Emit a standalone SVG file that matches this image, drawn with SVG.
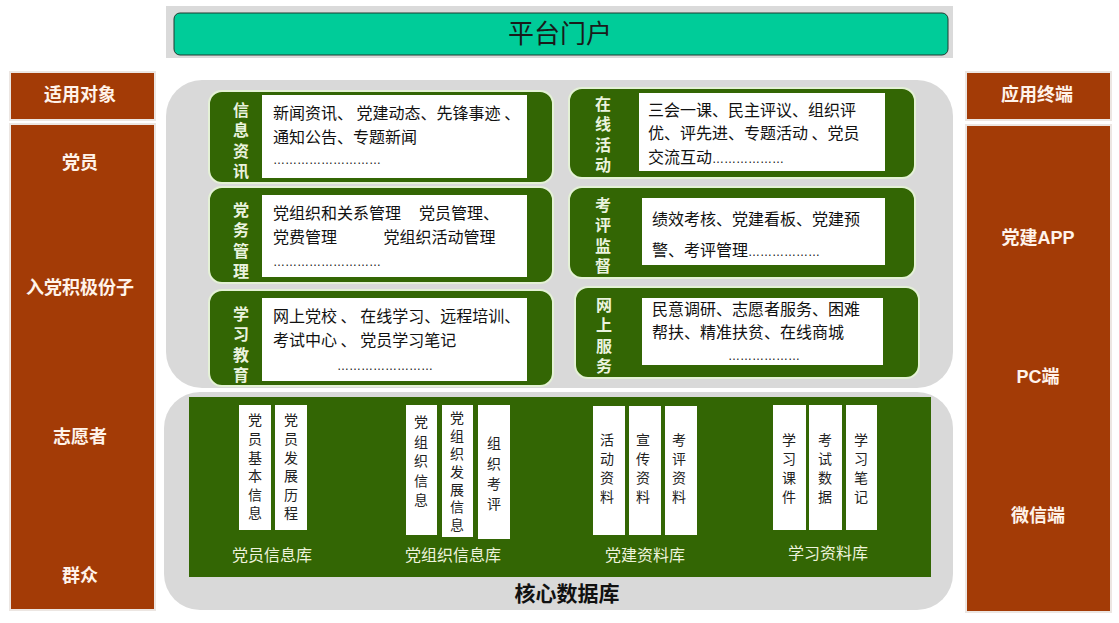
<svg xmlns="http://www.w3.org/2000/svg" width="1119" height="623" viewBox="0 0 1119 623">
<style>
.bg{fill:#ffffff}
.gray{fill:#D9D9D9}
.brown{fill:#A33B06;stroke:#ECE6E2;stroke-width:2}
.side{font-family:"Liberation Sans","Noto Sans CJK SC",sans-serif;font-weight:bold;font-size:18px;fill:#FFF3EA;text-anchor:middle}
.mod{fill:#336604;stroke:#E4F1D6;stroke-width:2}
.white{fill:#FFFFFF}
.lab{font-family:"Noto Sans CJK SC",sans-serif;font-weight:bold;font-size:16px;fill:#EAF3DE;writing-mode:vertical-rl;text-orientation:upright;letter-spacing:4.3px}
.body{font-family:"Noto Sans CJK SC",sans-serif;font-size:16px;fill:#111111;white-space:pre}
.dots{font-family:"Liberation Sans",sans-serif;font-size:12px;fill:#111111}
.strip{fill:#FFFFFF}
.vt{font-family:"Noto Sans CJK SC",sans-serif;font-size:14px;fill:#222222;writing-mode:vertical-rl;text-orientation:upright;letter-spacing:5px}
.dbl{font-family:"Noto Sans CJK SC",sans-serif;font-size:16px;fill:#EEF3DC;text-anchor:middle}
</style>
<rect class="bg" x="0" y="0" width="1119" height="623"/>

<g id="portal">
<rect x="166" y="6" width="787" height="52" fill="#DADADA"/>
<rect x="174" y="13" width="774" height="42" rx="6" fill="#00CC99" stroke="#1F3B30" stroke-width="1"/>
<text x="560" y="43" font-family="Noto Sans CJK SC,sans-serif" font-size="26" fill="#1A1A1A" text-anchor="middle">平台门户</text>
</g>

<g id="left-column">
<rect class="brown" x="10" y="72" width="145" height="48"/>
<text class="side" x="80" y="101">适用对象</text>
<rect class="brown" x="10" y="124" width="145" height="486"/>
<text class="side" x="80" y="169">党员</text>
<text class="side" x="80" y="294">入党积极份子</text>
<text class="side" x="80" y="443">志愿者</text>
<text class="side" x="80" y="582">群众</text>
</g>

<g id="right-column">
<rect class="brown" x="966" y="72" width="145" height="48"/>
<text class="side" x="1037" y="101">应用终端</text>
<rect class="brown" x="966" y="125" width="145" height="487"/>
<text class="side" x="1038" y="244">党建APP</text>
<text class="side" x="1038" y="383">PC端</text>
<text class="side" x="1038" y="522">微信端</text>
</g>

<g id="services-area">
<rect class="gray" x="166" y="80" width="787" height="308" rx="36"/>
</g>

<g id="m-xinxi">
<rect class="mod" x="209" y="91" width="344" height="92" rx="13"/>
<rect class="white" x="262" y="95" width="265" height="83"/>
<text class="lab" x="241" y="102">信息资讯</text>
<text class="body" x="273" y="119">新闻资讯、 党建动态、先锋事迹 、</text>
<text class="body" x="273" y="143">通知公告、专题新闻</text>
<text class="dots" x="273" y="164">………………………</text>
</g>

<g id="m-dangwu">
<rect class="mod" x="209" y="187" width="344" height="96" rx="13"/>
<rect class="white" x="262" y="195" width="265" height="82"/>
<text class="lab" x="241" y="202">党务管理</text>
<text class="body" x="273" y="219">党组织和关系管理     党员管理、</text>
<text class="body" x="273" y="243">党费管理             党组织活动管理</text>
<text class="dots" x="273" y="266">………………………</text>
</g>

<g id="m-xuexi">
<rect class="mod" x="209" y="290" width="344" height="96" rx="13"/>
<rect class="white" x="262" y="298" width="265" height="83"/>
<text class="lab" x="241" y="306">学习教育</text>
<text class="body" x="273" y="322">网上党校 、 在线学习、远程培训、</text>
<text class="body" x="273" y="346">考试中心 、 党员学习笔记</text>
<text class="dots" x="337" y="370">……………………</text>
</g>

<g id="m-zaixian">
<rect class="mod" x="569" y="88" width="346" height="90" rx="13"/>
<rect class="white" x="639" y="93" width="246" height="78"/>
<text class="lab" x="603" y="96">在线活动</text>
<text class="body" x="648" y="116">三会一课、民主评议、组织评</text>
<text class="body" x="648" y="139">优、评先进、专题活动 、党员</text>
<text class="body" x="648" y="163">交流互动<tspan class="dots" style="font-size:12px">………………</tspan></text>
</g>

<g id="m-kaoping">
<rect class="mod" x="569" y="187" width="346" height="91" rx="13"/>
<rect class="white" x="642" y="198" width="243" height="67"/>
<text class="lab" x="603" y="197">考评监督</text>
<text class="body" x="652" y="225">绩效考核、党建看板、党建预</text>
<text class="body" x="652" y="256">警、考评管理<tspan class="dots" style="font-size:12px">………………</tspan></text>
</g>

<g id="m-wangshang">
<rect class="mod" x="575" y="287" width="344" height="91" rx="13"/>
<rect class="white" x="642" y="298" width="241" height="67"/>
<text class="lab" x="604" y="297">网上服务</text>
<text class="body" x="652" y="315">民意调研、志愿者服务、困难</text>
<text class="body" x="652" y="338">帮扶、精准扶贫、在线商城</text>
<text class="dots" x="728" y="360">………………</text>
</g>

<g id="core-db">
<rect class="gray" x="164" y="392" width="789" height="218" rx="36"/>
<rect x="189" y="397" width="742" height="180" fill="#336604"/>
<text x="567" y="601" font-family="Noto Sans CJK SC,sans-serif" font-weight="bold" font-size="21" fill="#111111" text-anchor="middle">核心数据库</text>
</g>

<g id="db-dangyuan">
<rect class="strip" x="239" y="405" width="32" height="125"/>
<rect class="strip" x="275" y="405" width="32" height="125"/>
<text class="vt" x="255" y="413" style="letter-spacing:4.6px">党员基本信息</text>
<text class="vt" x="291" y="413" style="letter-spacing:4.6px">党员发展历程</text>
<text class="dbl" x="272" y="561">党员信息库</text>
</g>

<g id="db-dangzuzhi">
<rect class="strip" x="406" y="405" width="31" height="130"/>
<rect class="strip" x="442" y="405" width="31" height="132"/>
<rect class="strip" x="478" y="405" width="32" height="134"/>
<text class="vt" x="421" y="415" style="letter-spacing:5.5px">党组织信息</text>
<text class="vt" x="457" y="411" style="letter-spacing:3.8px">党组织发展信息</text>
<text class="vt" x="494" y="436" style="letter-spacing:6.3px">组织考评</text>
<text class="dbl" x="453" y="561">党组织信息库</text>
</g>

<g id="db-dangjian">
<rect class="strip" x="593" y="406" width="32" height="129"/>
<rect class="strip" x="629" y="406" width="32" height="129"/>
<rect class="strip" x="665" y="406" width="32" height="129"/>
<text class="vt" x="607" y="433">活动资料</text>
<text class="vt" x="643" y="433">宣传资料</text>
<text class="vt" x="679" y="433">考评资料</text>
<text class="dbl" x="645" y="561">党建资料库</text>
</g>

<g id="db-xuexi">
<rect class="strip" x="773" y="405" width="33" height="125"/>
<rect class="strip" x="809" y="405" width="33" height="125"/>
<rect class="strip" x="846" y="405" width="31" height="125"/>
<text class="vt" x="789" y="433">学习课件</text>
<text class="vt" x="825" y="433">考试数据</text>
<text class="vt" x="861" y="433">学习笔记</text>
<text class="dbl" x="828" y="559">学习资料库</text>
</g>

<g id="connectors"></g>
</svg>
